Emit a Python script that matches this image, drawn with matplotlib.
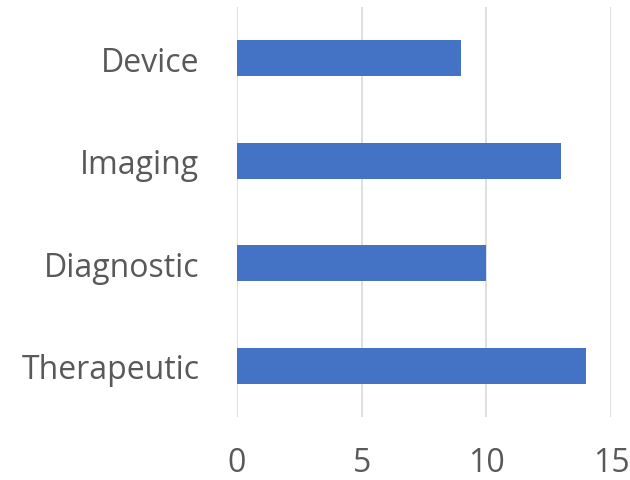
import matplotlib.pyplot as plt

# data
categories = ['Therapeutic', 'Diagnostic', 'Imaging', 'Device']
values = [14, 10, 13, 9]
xticks = [0, 5, 10, 15]

plt.rcParams['font.family'] = ['Open Sans', 'DejaVu Sans']

fig = plt.figure(figsize=(6.3, 4.81), dpi=100)
ax = fig.add_axes([0.376, 0.131, 0.594, 0.852])

ax.barh(categories, values, height=0.35, color='#4472C4', zorder=3)

ax.set_xlim(0, 15)
ax.set_ylim(-0.5, 3.5)
ax.set_xticks(xticks)
ax.grid(axis='x', color='#D9D9D9', linewidth=1.2, zorder=0)
for s in ax.spines.values():
    s.set_visible(False)
ax.tick_params(axis='both', length=0, labelsize=23, colors='#595959')
ax.tick_params(axis='x', pad=21)
ax.tick_params(axis='y', pad=27)

fig.savefig('out.png', dpi=100)
